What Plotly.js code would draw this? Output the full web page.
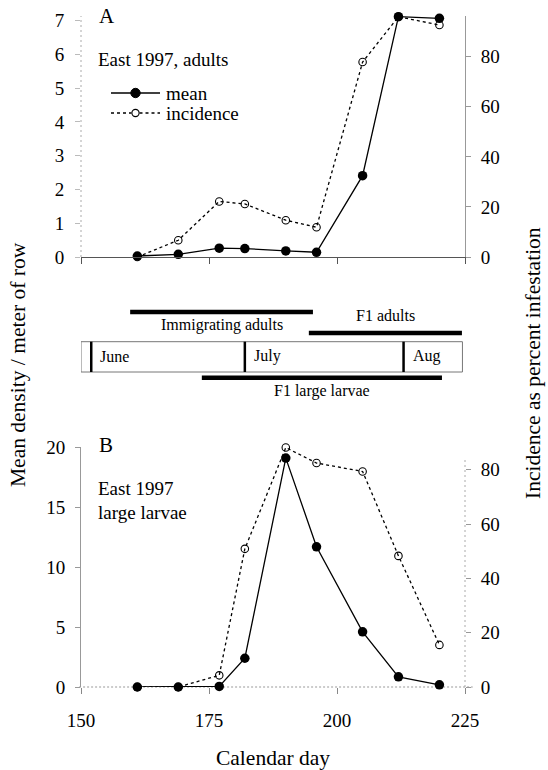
<!DOCTYPE html>
<html>
<head>
<meta charset="utf-8">
<script src="https://cdn.plot.ly/plotly-3.0.1.min.js"></script>
<style>
  html, body { margin: 0; padding: 0; background: #fff; }
  #chart { width: 548px; height: 770px; }
</style>
</head>
<body>
<div id="chart"></div>
<script>
// ---- data ----
const days = [161, 169, 177, 182, 190, 196, 205, 212, 220];
const adultMean = [0.03, 0.08, 0.26, 0.25, 0.18, 0.14, 2.41, 7.12, 7.07];
const adultIncidence = [0, 6.7, 22.2, 21.2, 14.7, 11.9, 77.9, 96.0, 92.7];
const larvaeMean = [0, 0, 0.05, 2.4, 19.1, 11.7, 4.6, 0.85, 0.18];
const larvaeIncidence = [0, 0, 4.3, 50.9, 88.2, 82.5, 79.4, 48.3, 15.5];

const phaseNames = ['Immigrating adults', 'F1 adults', 'F1 large larvae'];
const phaseStart = [159.6, 194.5, 173.6];
const phaseEnd = [195.3, 224.4, 220.5];

const monthNames = ['June', 'July', 'Aug'];
const monthStart = [152, 182, 213];
const timelineSpan = [150, 224.5];

const xTicks = [150, 175, 200, 225];
const seriesNames = ['mean', 'incidence'];

// ---- styling ----
const FONT = '"Liberation Serif", "Times New Roman", "DejaVu Serif", serif';
const W = 548, H = 770, L = 81, R = 83, T = 16, B = 83;
const plotH = H - T - B, plotW = W - L - R;
const py = px => (H - B - px) / plotH;   // pixel row -> paper y
const px = v => (v - L) / plotW;          // pixel column -> paper x
const DOT = '3px,3px';

const meanStyle = {
  mode: 'lines+markers',
  line: {color: '#000', width: 1.3},
  marker: {symbol: 'circle', size: 9.5, color: '#000'},
  cliponaxis: false, showlegend: false
};
const incStyle = {
  mode: 'lines+markers',
  line: {color: '#000', width: 1.3, dash: DOT},
  marker: {symbol: 'circle-open', size: 7.5, color: '#000', line: {width: 1.1, color: '#000'}},
  cliponaxis: false, showlegend: false
};

const traces = [
  Object.assign({x: days, y: adultIncidence, xaxis: 'x', yaxis: 'y2', name: seriesNames[1]}, incStyle),
  Object.assign({x: days, y: adultMean, xaxis: 'x', yaxis: 'y', name: seriesNames[0]}, meanStyle),
  Object.assign({x: days, y: larvaeIncidence, xaxis: 'x2', yaxis: 'y4', name: seriesNames[1]}, incStyle),
  Object.assign({x: days, y: larvaeMean, xaxis: 'x2', yaxis: 'y3', name: seriesNames[0]}, meanStyle)
];

const tickFont = {family: FONT, size: 19, color: '#000'};
const yBase = {
  showgrid: false, zeroline: false, showline: true, linecolor: '#999', linewidth: 1,
  ticks: 'outside', ticklen: 5, tickcolor: '#999', tickfont: tickFont, fixedrange: true
};
const domA = [py(257), 1];
const domB = [0, py(447.3)];

const shapes = [];
const annotations = [];

// dotted axis lines (panel A left, panel B bottom and right)
shapes.push({type: 'line', xref: 'x domain', yref: 'y domain', x0: 0, x1: 0, y0: 0, y1: 1,
  line: {color: '#aaa', width: 1, dash: '2px,3px'}});
shapes.push({type: 'line', xref: 'x2 domain', yref: 'y3 domain', x0: -0.005, x1: 1.02, y0: 0, y1: 0,
  line: {color: '#999', width: 1, dash: '2px,2px'}, layer: 'below'});
shapes.push({type: 'line', xref: 'x2 domain', yref: 'y3 domain', x0: 1, x1: 1, y0: 0, y1: 0.955,
  line: {color: '#aaa', width: 1, dash: '2px,3px'}});

// ---- timeline ----
const barY = [py(312), py(333), py(377.7)];
const labelY = [py(325), py(315), py(391)];
shapes.push({type: 'rect', xref: 'x2', yref: 'paper', x0: timelineSpan[0], x1: timelineSpan[1],
  y0: py(372), y1: py(341.7), line: {color: '#777', width: 1}});
monthStart.forEach((d, i) => {
  shapes.push({type: 'line', xref: 'x2', yref: 'paper', x0: d, x1: d, y0: py(372), y1: py(341.7),
    line: {color: '#000', width: 2.5}});
  annotations.push({xref: 'x2', yref: 'paper', x: d, y: py(356), xanchor: 'left', yanchor: 'middle',
    xshift: 7, text: monthNames[i], showarrow: false, font: {family: FONT, size: 16, color: '#000'}});
});
phaseNames.forEach((n, i) => {
  shapes.push({type: 'line', xref: 'x2', yref: 'paper', x0: phaseStart[i], x1: phaseEnd[i],
    y0: barY[i], y1: barY[i], line: {color: '#000', width: 4.5}});
  annotations.push({xref: 'x2', yref: 'paper', x: (phaseStart[i] + phaseEnd[i]) / 2, y: labelY[i],
    xanchor: 'center', yanchor: 'middle', text: n, showarrow: false,
    font: {family: FONT, size: 16, color: '#000'}});
});

// ---- panel texts ----
const txt = (t, xp, yp, size) => ({xref: 'paper', yref: 'paper', x: px(xp), y: py(yp),
  xanchor: 'left', yanchor: 'middle', text: t, showarrow: false, align: 'left',
  font: {family: FONT, size: size, color: '#000'}});
annotations.push(txt('A', 97, 16, 21));
annotations.push(txt('East 1997, adults', 96, 60, 19));
annotations.push(txt('B', 97, 445, 21));
annotations.push(txt('East 1997', 96, 488, 19));
annotations.push(txt('large larvae', 96, 512, 19));

// ---- hand-drawn legend (panel A) ----
const legRows = [93, 113];
const legX0 = 111, legX1 = 160, legMid = 135.5;
shapes.push({type: 'line', xref: 'paper', yref: 'paper', x0: px(legX0), x1: px(legX1), y0: py(legRows[0]), y1: py(legRows[0]),
  line: {color: '#000', width: 1.3}});
shapes.push({type: 'circle', xref: 'paper', yref: 'paper', x0: px(legMid - 4.7), x1: px(legMid + 4.7),
  y0: py(legRows[0] + 4.7), y1: py(legRows[0] - 4.7), fillcolor: '#000', line: {color: '#000', width: 1}});
shapes.push({type: 'line', xref: 'paper', yref: 'paper', x0: px(legX0), x1: px(legMid - 4), y0: py(legRows[1]), y1: py(legRows[1]),
  line: {color: '#000', width: 1.3, dash: DOT}});
shapes.push({type: 'line', xref: 'paper', yref: 'paper', x0: px(legMid + 4), x1: px(legX1), y0: py(legRows[1]), y1: py(legRows[1]),
  line: {color: '#000', width: 1.3, dash: DOT}});
shapes.push({type: 'circle', xref: 'paper', yref: 'paper', x0: px(legMid - 3.6), x1: px(legMid + 3.6),
  y0: py(legRows[1] + 3.6), y1: py(legRows[1] - 3.6), fillcolor: '#fff', line: {color: '#000', width: 1.1}});
seriesNames.forEach((n, i) => annotations.push(txt(n, 164, legRows[i], 19)));

// ---- spanning axis titles ----
annotations.push({xref: 'paper', yref: 'paper', x: px(18), y: py(365), xanchor: 'center', yanchor: 'middle',
  text: 'Mean density / meter of row', textangle: -90, showarrow: false, font: {family: FONT, size: 21.5, color: '#000'}});
annotations.push({xref: 'paper', yref: 'paper', x: px(533), y: py(363), xanchor: 'center', yanchor: 'middle',
  text: 'Incidence as percent infestation', textangle: -90, showarrow: false, font: {family: FONT, size: 21.5, color: '#000'}});

const layout = {
  width: W, height: H,
  margin: {l: L, r: R, t: T, b: B},
  paper_bgcolor: '#fff', plot_bgcolor: 'rgba(0,0,0,0)',
  font: {family: FONT, color: '#000'},
  showlegend: false,
  xaxis: {domain: [0, 1], anchor: 'y', range: [150, 225], tickvals: xTicks, showticklabels: false,
    ticks: 'outside', ticklen: 6, tickcolor: '#555', showline: true, linecolor: '#555', linewidth: 1,
    showgrid: false, zeroline: false, fixedrange: true},
  xaxis2: {domain: [0, 1], anchor: 'y3', range: [150, 225], tickvals: xTicks, tickfont: tickFont,
    ticks: 'outside', ticklen: 6, tickcolor: '#888', showline: false,
    ticklabelstandoff: 10,
    showgrid: false, zeroline: false, fixedrange: true,
    title: {text: 'Calendar day', font: {family: FONT, size: 21.5, color: '#000'}, standoff: 20}},
  yaxis: Object.assign({}, yBase, {domain: domA, anchor: 'x', range: [0, 7.14], tickvals: [0,1,2,3,4,5,6,7],
    showline: false, tickcolor: '#bbb', ticklabelstandoff: 7}),
  yaxis2: Object.assign({}, yBase, {overlaying: 'y', side: 'right', anchor: 'x', range: [0, 96.3],
    tickvals: [0,20,40,60,80], ticklabelstandoff: 6}),
  yaxis3: Object.assign({}, yBase, {domain: domB, anchor: 'x2', range: [0, 20], tickvals: [0,5,10,15,20],
    ticklabelstandoff: 6}),
  yaxis4: Object.assign({}, yBase, {overlaying: 'y3', side: 'right', anchor: 'x2', range: [0, 88.3],
    tickvals: [0,20,40,60,80], showline: false, ticklabelstandoff: 6}),
  shapes: shapes,
  annotations: annotations
};

Plotly.newPlot('chart', traces, layout, {displayModeBar: false, staticPlot: true});
</script>
</body>
</html>
